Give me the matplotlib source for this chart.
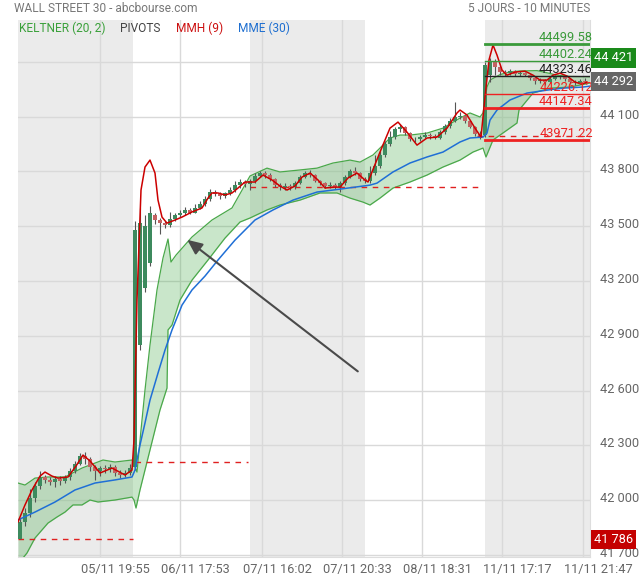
import matplotlib
matplotlib.use('Agg')
import matplotlib.pyplot as plt
import matplotlib.transforms as mtransforms
from matplotlib.ticker import FuncFormatter
import numpy as np

plt.rcParams['font.family'] = ['Roboto', 'DejaVu Sans']

# candles (one bar per slot), prices
opens = [41790, 41880, 41930, 42010, 42080, 42125, 42110, 42100, 42115, 42105,
         42125, 42160, 42200, 42240, 42225, 42180, 42160, 42175, 42170, 42180,
         42150, 42140, 42150, 42180, 42850, 43160, 43300, 43560, 43535, 43515,
         43505, 43540, 43560, 43570, 43590, 43575, 43600, 43620, 43650, 43690,
         43675, 43665, 43680, 43700, 43725, 43740, 43730, 43745, 43775, 43790,
         43780, 43760, 43725, 43715, 43720, 43715, 43735, 43770, 43790, 43780,
         43750, 43735, 43720, 43725, 43715, 43735, 43770, 43800, 43790, 43760,
         43745, 43790, 43830, 43890, 43950, 43990, 44030, 44045, 44010, 43980,
         43975, 43990, 44000, 43995, 43985, 44015, 44050, 44075, 44100, 44105,
         44075, 44045, 44005, 44000, 44330, 44400, 44370, 44345, 44340, 44350,
         44335, 44340, 44330, 44310, 44295, 44300, 44290, 44305, 44320, 44315,
         44305, 44290, 44285, 44295]
highs = [41900, 41960, 42060, 42100, 42160, 42140, 42125, 42130, 42130, 42140,
         42175, 42215, 42260, 42265, 42235, 42190, 42185, 42195, 42200, 42190,
         42165, 42165, 42200, 43530, 43600, 43560, 43610, 43575, 43545, 43530,
         43580, 43575, 43590, 43605, 43600, 43620, 43640, 43665, 43705, 43700,
         43685, 43690, 43715, 43745, 43760, 43755, 43760, 43790, 43805, 43800,
         43790, 43765, 43735, 43735, 43730, 43745, 43780, 43805, 43810, 43785,
         43755, 43740, 43740, 43735, 43745, 43780, 43815, 43825, 43795, 43770,
         43830, 43890, 43910, 43965, 44020, 44045, 44060, 44050, 44015, 43990,
         44000, 44015, 44010, 44005, 44025, 44060, 44090, 44180, 44125, 44110,
         44080, 44050, 44020, 44400, 44421, 44415, 44380, 44355, 44360, 44355,
         44350, 44345, 44335, 44315, 44310, 44305, 44315, 44330, 44330, 44320,
         44310, 44300, 44305, 44310]
lows = [41786, 41860, 41910, 41990, 42060, 42095, 42085, 42070, 42085, 42095,
        42110, 42150, 42190, 42200, 42160, 42110, 42130, 42150, 42155, 42130,
        42120, 42125, 42140, 42165, 42820, 43140, 43280, 43510, 43460, 43490,
        43495, 43530, 43550, 43560, 43565, 43570, 43595, 43610, 43640, 43665,
        43650, 43655, 43670, 43690, 43710, 43715, 43700, 43735, 43770, 43765,
        43745, 43715, 43700, 43700, 43700, 43705, 43730, 43765, 43770, 43740,
        43725, 43710, 43710, 43705, 43690, 43725, 43765, 43780, 43745, 43735,
        43735, 43780, 43820, 43880, 43940, 43980, 44015, 44000, 43965, 43960,
        43965, 43985, 43980, 43975, 43980, 44005, 44040, 44070, 44085, 44065,
        44035, 43995, 43980, 43990, 44290, 44330, 44330, 44325, 44330, 44325,
        44325, 44320, 44300, 44280, 44285, 44275, 44285, 44300, 44305, 44295,
        44280, 44275, 44280, 44285]
closes = [41880, 41930, 42010, 42080, 42120, 42110, 42100, 42115, 42105, 42125,
          42160, 42200, 42240, 42225, 42180, 42160, 42175, 42170, 42180, 42150,
          42140, 42150, 42175, 43480, 43520, 43500, 43570, 43535, 43515, 43505,
          43540, 43560, 43570, 43590, 43575, 43600, 43620, 43650, 43690, 43675,
          43665, 43680, 43700, 43725, 43740, 43730, 43745, 43775, 43790, 43780,
          43760, 43725, 43715, 43720, 43715, 43735, 43770, 43790, 43780, 43750,
          43735, 43720, 43725, 43715, 43735, 43770, 43800, 43790, 43760, 43745,
          43790, 43830, 43890, 43950, 43990, 44030, 44045, 44010, 43980, 43975,
          43990, 44000, 43995, 43985, 44015, 44050, 44075, 44100, 44105, 44075,
          44045, 44005, 43995, 44380, 44400, 44370, 44345, 44340, 44350, 44335,
          44340, 44330, 44310, 44295, 44300, 44290, 44305, 44320, 44315, 44305,
          44290, 44285, 44295, 44292]

# MMH (9)
mmh_x = [-0.4, 1, 2.4, 4, 5, 6.4, 7.6, 9.6, 11.2, 12.6, 14, 16, 18.4, 21, 22.4,
         22.8, 23.4, 24.2, 25, 26, 27, 27.6, 28.4, 29.4, 31, 32.4, 34.4, 36.4,
         37.6, 38.4, 39.6, 41, 42.4, 43.6, 45, 47, 48.6, 50.4, 52, 53.4, 55,
         56.4, 58, 59.6, 61, 62.6, 64, 65.6, 67.4, 69, 69.6, 72, 74, 75.6, 77.4,
         79.4, 81.4, 83.4, 85.4, 87.4, 88, 89.4, 91, 92.2, 93, 93.8, 94.6, 95.4,
         96.4, 97.4, 99, 101, 102.6, 104, 105.4, 106.6, 108, 109.4, 111, 112.4,
         113.4]
mmh_y = [41881, 41974, 42056, 42132, 42154, 42132, 42121, 42127, 42187, 42247,
         42215, 42149, 42176, 42138, 42165, 42330, 43096, 43698, 43824, 43862,
         43791, 43643, 43550, 43517, 43534, 43550, 43578, 43600, 43654, 43682,
         43682, 43671, 43682, 43709, 43742, 43742, 43780, 43753, 43720, 43698,
         43720, 43769, 43791, 43753, 43709, 43714, 43714, 43764, 43791, 43753,
         43742, 43906, 44037, 44070, 44015, 43944, 43983, 43988, 44037, 44120,
         44136, 44109, 44037, 43988, 44207, 44410, 44492, 44437, 44355, 44327,
         44344, 44349, 44327, 44300, 44300, 44327, 44338, 44322, 44289, 44278,
         44289]

# MME (30)
mme_x = [-0.4, 3, 7, 11, 15, 19, 22.4, 23, 24, 25, 26, 27.6, 29, 30.4, 32.4,
         34.4, 37, 39.6, 43, 47, 50.6, 54.6, 59.4, 64, 70, 71.4, 74.6, 78, 81.4,
         84.6, 88, 90, 92.6, 93.4, 94, 95.4, 98, 101.4, 105.4, 108.6, 112.6, 114]
mme_y = [41892, 41935, 41990, 42056, 42094, 42111, 42127, 42165, 42302, 42423,
         42548, 42696, 42822, 42932, 43068, 43151, 43227, 43315, 43424, 43534,
         43589, 43643, 43687, 43703, 43725, 43736, 43797, 43846, 43879, 43906,
         43961, 43983, 43988, 44010, 44081, 44136, 44191, 44229, 44245, 44256,
         44262, 44267]

# KELTNER (20, 2)
kup_x = [-0.4, 1, 3, 5.6, 9, 12.4, 16.6, 19, 22.4, 22.6, 23.4, 24.2, 25, 26,
         27.4, 28.6, 29.6, 30.2, 31.2, 34.4, 38.4, 42.4, 46, 49.4, 52, 56, 59.4,
         62.6, 66, 68, 70.6, 72, 74, 76, 78, 81.4, 84.6, 88, 90, 92, 92.6, 93.4,
         94, 96, 98, 100, 103.4, 105.4, 107.4, 110, 114]
kup_y = [42094, 42083, 42121, 42127, 42127, 42176, 42220, 42209, 42220, 42209,
         42154, 42384, 42603, 42850, 43151, 43326, 43430, 43304, 43342, 43441,
         43534, 43600, 43775, 43818, 43797, 43808, 43818, 43846, 43862, 43851,
         43890, 43928, 43983, 43999, 43999, 44010, 44037, 44092, 44120, 44098,
         44120, 44262, 44300, 44330, 44345, 44350, 44352, 44340, 44327, 44320,
         44318]
klo_x = [-0.4, 1.4, 3, 5.6, 7.4, 9, 10.6, 12.4, 14, 15.6, 19, 22.4, 22.8, 23.2,
         24, 26, 28, 29.4, 29.6, 30.4, 32, 34.4, 37.6, 41, 44, 46, 49.4, 52, 56,
         60, 63.4, 66, 68.6, 70, 72, 74.6, 78, 81.4, 84.6, 88, 90.6, 92.6, 93.2,
         94.6, 97.4, 99.4, 99.8, 102.6, 106, 110, 114]
klo_y = [41650, 41711, 41793, 41875, 41908, 41935, 41974, 41974, 42001, 41990,
         42001, 42017, 42001, 41957, 42056, 42275, 42494, 42614, 42932, 42959,
         43096, 43205, 43315, 43435, 43523, 43545, 43589, 43616, 43643, 43682,
         43682, 43654, 43632, 43616, 43654, 43709, 43742, 43780, 43824, 43862,
         43906, 43928, 43879, 43972, 44026, 44065, 44136, 44229, 44256, 44262,
         44284]

# pivots for the last day
piv_vals = [44499.58, 44402.24, 44323.46, 44226.12, 44147.34, 43971.22]
piv_cols = ['#3a9a3a', '#3a9a3a', '#222222', '#ee2222', '#ee2222', '#ee2222']
piv_lw = [2.0, 1.0, 1.0, 1.0, 2.0, 2.0]
piv_start = 93

# dashed reference levels per day: (start, end, level)
ref_levels = [(-0.4, 22.6, 41786), (23, 45.6, 42209), (46, 92.6, 43714), (91.4, 114, 43992)]

# alternate day shading
day_bands = [(-0.4, 22.6), (46, 69), (93, 114.4)]

tick_pos = [16, 32, 48.4, 64.4, 80.4, 96.4, 112.6]
tick_lab = ['05/11 19:55', '06/11 17:53', '07/11 16:02', '07/11 20:33',
            '08/11 18:31', '11/11 17:17', '11/11 21:47']

last_high = 44421
last_price = 44292
last_low = 41786

FS = 8.6

fig = plt.figure(figsize=(6.4, 5.8), dpi=100)
ax = fig.add_axes([18/640, 23/580, 572/640, 537/580])

ax.set_xlim(-0.4, 114)
ax.set_ylim(41689, 44629)

for a, b in day_bands:
    ax.axvspan(a, b, color='#ebebeb', zorder=0, lw=0)

ax.set_yticks(np.arange(41700, 44500, 300))
ax.set_xticks(tick_pos)
ax.grid(True, color='#d9d9d9', lw=1, zorder=1)
ax.set_axisbelow(True)

# keltner band
kx = np.array(sorted(set(kup_x) | set(klo_x)))
ku = np.interp(kx, kup_x, kup_y)
kl = np.interp(kx, klo_x, klo_y)
ax.fill_between(kx, kl, ku, color='#4caf50', alpha=0.3, lw=0, zorder=2)
ax.plot(kup_x, kup_y, color='#4aa84a', lw=0.9, zorder=3)
ax.plot(klo_x, klo_y, color='#4aa84a', lw=0.9, zorder=3)

# dashed levels
for a, b, lv in ref_levels:
    ax.plot([a, b], [lv, lv], color='#e02020', lw=1, ls=(0, (4, 4)), zorder=3)

# candles
idx = np.arange(len(closes))
o = np.array(opens)
c = np.array(closes)
up = c >= o
ax.vlines(idx, lows, highs, color='#555555', lw=0.8, zorder=4)
body_h = np.maximum(np.abs(c - o), 4)
ax.bar(idx[up], body_h[up], bottom=np.minimum(o, c)[up], width=0.7,
       color='#3d8a5e', zorder=5, lw=0)
ax.bar(idx[~up], body_h[~up], bottom=np.minimum(o, c)[~up], width=0.7,
       color='#c46262', zorder=5, lw=0)

# moving averages
ax.plot(mme_x, mme_y, color='#1f6fd6', lw=1.1, zorder=6)
ax.plot(mmh_x, mmh_y, color='#cc0000', lw=1.1, zorder=7)

# pivots
lab_tr = mtransforms.blended_transform_factory(ax.transAxes, ax.transData)
for v, col, lw in zip(piv_vals, piv_cols, piv_lw):
    ax.plot([piv_start, 114], [v, v], color=col, lw=lw, zorder=8)
    ax.text(1.005, v, f'{v:.2f}', transform=lab_tr, ha='right', va='bottom',
            color=col, fontsize=FS + 0.6, zorder=9)

# arrow
ax.annotate('', xy=(33, 43435), xytext=(68, 42696),
            arrowprops=dict(arrowstyle='-|>,head_width=0.4,head_length=0.9',
                            color='#4a4a4a', lw=1.5), zorder=9)

# axes styling
for s in ['top', 'left']:
    ax.spines[s].set_visible(False)
for s in ['bottom', 'right']:
    ax.spines[s].set_color('#dddddd')
ax.yaxis.tick_right()
# the 44 400 label sits under the high-price box, so leave it blank
ax.yaxis.set_major_formatter(FuncFormatter(
    lambda v, p: '' if v >= 44400 else f'{int(v):,}'.replace(',', ' ')))
ax.tick_params(axis='y', length=0, pad=7, labelsize=FS + 0.6, labelcolor='#666666')
ax.tick_params(axis='x', length=0, pad=4, labelsize=FS + 0.6, labelcolor='#666666')
ax.set_xticklabels(tick_lab)
shift = mtransforms.ScaledTranslation(15/100, 0, fig.dpi_scale_trans)
for t in ax.get_xticklabels():
    t.set_transform(t.get_transform() + shift)
up_shift = mtransforms.ScaledTranslation(0, 3/100, fig.dpi_scale_trans)
for t in ax.get_yticklabels():
    t.set_transform(t.get_transform() + up_shift)

# price boxes on the right
for v, col in [(last_high, '#1a8a1a'), (last_price, '#666666'), (last_low, '#c40000')]:
    ax.text(1.007, v, f'{v:,}'.replace(',', ' '), transform=lab_tr, ha='left',
            va='center', color='white', fontsize=FS + 0.6, zorder=10,
            bbox=dict(boxstyle='square,pad=0.25', fc=col, ec='none'))

# header
fig.text(14/640, 1 - 9/580, 'WALL STREET 30 - abcbourse.com', color='#777777',
         fontsize=FS, va='center', ha='left')
fig.text(590/640, 1 - 9/580, '5 JOURS - 10 MINUTES', color='#777777',
         fontsize=FS, va='center', ha='right')
fig.text(19/640, 1 - 28/580, 'KELTNER (20, 2)', color='#3aa03a', fontsize=FS, va='center')
fig.text(120/640, 1 - 28/580, 'PIVOTS', color='#444444', fontsize=FS, va='center')
fig.text(176/640, 1 - 28/580, 'MMH (9)', color='#cc1111', fontsize=FS, va='center')
fig.text(238/640, 1 - 28/580, 'MME (30)', color='#1f6fd0', fontsize=FS, va='center')

fig.savefig('out.png', dpi=100)
